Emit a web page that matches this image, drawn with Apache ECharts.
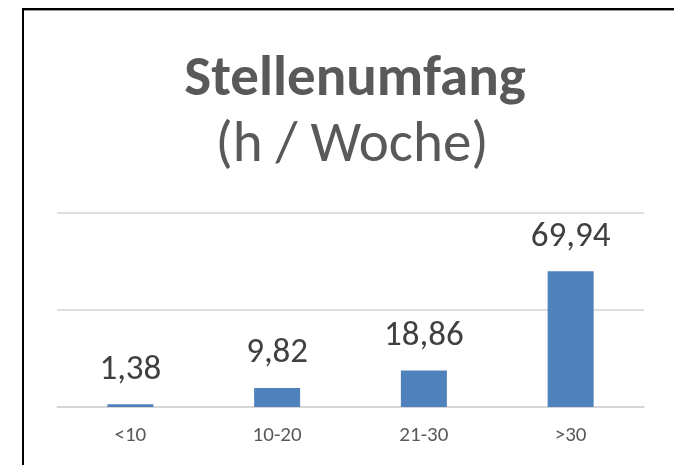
<!DOCTYPE html>
<html>
<head>
<meta charset="utf-8">
<script src="https://cdn.jsdelivr.net/npm/echarts@6/dist/echarts.min.js"></script>
<style>
html,body{margin:0;padding:0;background:#fff;}
#chart{width:674px;height:465px;}
</style>
</head>
<body>
<div id="chart"></div>
<script>
const titleText = 'Stellenumfang';
const subtitleText = '(h / Woche)';
const categories = ['<10', '10-20', '21-30', '>30'];
const values = [1.38, 9.82, 18.86, 69.94];
const yMin = 0, yMax = 100, yInterval = 50;

const FONT = 'Carlito, Calibri, Lato, sans-serif';
const chart = echarts.init(document.getElementById('chart'));
chart.setOption({
  animation: false,
  backgroundColor: '#ffffff',
  title: [
    { text: titleText, left: 350, top: 47, textAlign: 'center',
      textStyle: { fontFamily: FONT, fontSize: 57, fontWeight: 'bold', color: '#595959', lineHeight: 57 } },
    { text: subtitleText, left: 347, top: 113, textAlign: 'center',
      textStyle: { fontFamily: FONT, fontSize: 57, fontWeight: 'normal', color: '#595959', lineHeight: 57 } }
  ],
  grid: { left: 57, right: 30, top: 213, bottom: 58, containLabel: false },
  xAxis: {
    type: 'category', data: categories,
    axisLine: { show: true, lineStyle: { color: '#d4d4d4', width: 1.5 } },
    axisTick: { show: false },
    axisLabel: { fontFamily: FONT, fontSize: 21, color: '#595959', margin: 18 }
  },
  yAxis: {
    type: 'value', min: yMin, max: yMax, interval: yInterval,
    axisLine: { show: false }, axisTick: { show: false }, axisLabel: { show: false },
    splitLine: { lineStyle: { color: '#d4d4d4', width: 1.5 } }
  },
  series: [{
    type: 'bar', data: values, barWidth: 46,
    itemStyle: { color: '#4f81bd' },
    label: {
      show: true, position: 'top', distance: 17,
      fontFamily: FONT, fontSize: 35, color: '#404040',
      formatter: p => String(p.value).replace('.', ',')
    }
  }],
  graphic: [
    { type: 'line', shape: { x1: 23, y1: 9, x2: 23, y2: 465 }, style: { stroke: '#000', lineWidth: 2 } },
    { type: 'line', shape: { x1: 22, y1: 9, x2: 674, y2: 9 }, style: { stroke: '#000', lineWidth: 2 } },
    { type: 'line', shape: { x1: 24, y1: 10.5, x2: 674, y2: 10.5 }, style: { stroke: '#9a9a9a', lineWidth: 1 } }
  ]
});
</script>
</body>
</html>
